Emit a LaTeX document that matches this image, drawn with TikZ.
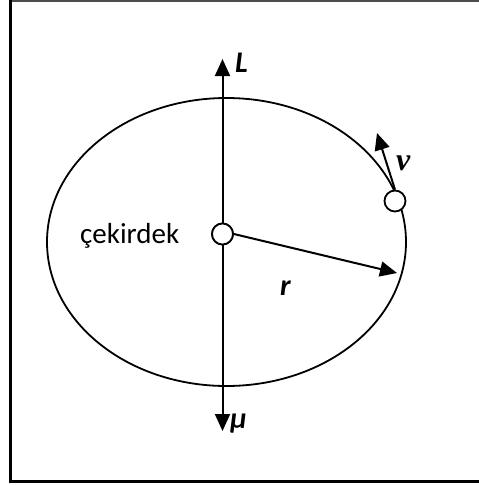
\documentclass[tikz,border=0pt]{standalone}
\usepackage{fontspec}
\setmainfont{Carlito}
\newfontfamily\serifbi{Liberation Serif}
\usetikzlibrary{arrows.meta}
\begin{document}
\begin{tikzpicture}[x=1pt,y=-1pt,
  orbit/.style={line width=1.8pt},
  vec/.style={line width=2pt,-{Triangle[length=17pt,width=15pt]}},
  dot/.style={circle,draw,line width=1.8pt,fill=white,minimum size=21pt,inner sep=0pt},
  lbl/.style={font=\bfseries\itshape\fontsize{30}{30}\selectfont,inner sep=0pt}]
\useasboundingbox (0,0) rectangle (479,485);
\clip (0,0) rectangle (479,485);
% frame
\draw[line width=1.5pt,black!70] (10,1) -- (485,1);
\draw[line width=3pt] (10.5,0) -- (10.5,481.5) -- (485,481.5);
% orbit
\draw[orbit] (226.5,242) ellipse [x radius=179.5, y radius=144];
% axis
\coordinate (Ltip) at (222.5,59);
\coordinate (Mtip) at (222.5,431);
\node[dot] (nuc) at (222.5,234) {};
\draw[vec] (nuc.north) -- (Ltip);
\draw[vec] (nuc.south) -- (Mtip);
\node[dot] (el) at (395,201) {};
\coordinate (vtip) at (377,133);
\coordinate (rtip) at (397,273);
\draw[vec] (el.north) -- (vtip);
\draw[vec] (nuc.east) -- (rtip);
\node[dot] at (nuc) {};
\node[lbl,anchor=base west] (L) at (235,72) {L};
\node[lbl,anchor=base west] (mu) at (230,428) {μ};
\node[lbl,anchor=base west] (r) at (280,295) {r};
\node[inner sep=0pt,anchor=base west,font=\serifbi\bfseries\itshape\fontsize{32}{32}\selectfont] (v) at (396,170) {v};
\node[inner sep=0pt,anchor=base west,font=\fontsize{29}{29}\selectfont] (cek) at (80,243) {çekirdek};
\end{tikzpicture}
\end{document}
